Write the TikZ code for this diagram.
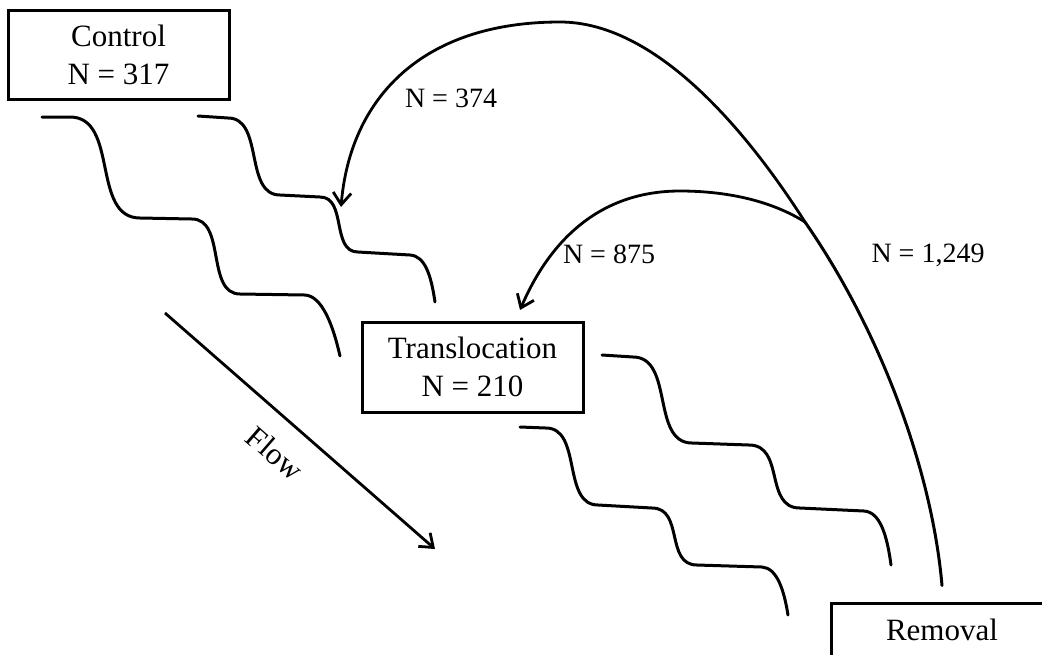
\documentclass[tikz,border=0pt]{standalone}
\usepackage{fontspec}
\setmainfont{Liberation Serif}
\usetikzlibrary{arrows.meta, positioning}

\begin{document}
\begin{tikzpicture}[
    x=0.5pt, y=-0.5pt,
    font=\fontsize{15.5}{19}\selectfont,
    block/.style={rectangle, draw, line width=1.5pt, align=center, inner sep=0pt},
    count/.style={font=\fontsize{14}{17}\selectfont},
    wave/.style={draw, line width=1.5pt, line cap=round},
    line/.style={draw, line width=1.4pt, -{Straight Barb[length=6pt, width=9pt]}}
]

\useasboundingbox (0,0) rectangle (1042,654);

\node [block, minimum width=110.5pt, minimum height=44.5pt] (control) at (118.5,54.5) {Control\\N = 317};
\node [block, minimum width=110.5pt, minimum height=45pt] (transloc) at (472.5,367) {Translocation\\N = 210};
\node [block, minimum width=111pt, minimum height=27pt] (removal) at (942,630) {Removal};

\coordinate (split) at (805,222);
\coordinate (top) at (560,22);
\coordinate (crest) at (680,191);
\coordinate (tip374) at (341,207);
\coordinate (tip875) at (520,310);
\coordinate (flowstart) at (165,313);
\coordinate (flowend) at (435,549);

\node [count] (n374) at (451,98) {N = 374};
\node [count] (n875) at (609,254) {N = 875};
\node [count] (n1249) at (928,255) {N = 1,249};
\node [rotate=-41] (flow) at (275,453) {Flow};

\path [wave] ([yshift=8pt]removal.north) .. controls (932,470) and (880,330) .. (split);
\path [line] (split) .. controls (745,128) and (655,22) .. (top) .. controls (420,22) and (350,100) .. (tip374);
\path [line] (split) .. controls (770,200) and (725,191) .. (crest) .. controls (600,191) and (550,240) .. (tip875);
\path [line] (flowstart) -- (flowend);

\path [wave] (42,117) -- (70,117) .. controls (119,117) and (91,218) .. (140,218) -- (192,219)
    .. controls (226,219) and (206,294) .. (240,294) -- (305,295)
    .. controls (322,296) and (333,325) .. (340,356);
\path [wave] (198,116) -- (228,118) .. controls (264,118) and (244,195) .. (280,195) -- (320,197)
    .. controls (347,197) and (331,252) .. (358,252) -- (410,255)
    .. controls (425,256) and (431,275) .. (435,302);
\path [wave] (602,355) -- (633,357) .. controls (674,357) and (651,443) .. (692,443) -- (749,445)
    .. controls (785,445) and (764,508) .. (800,508) -- (864,511)
    .. controls (880,512) and (887,535) .. (891,565);
\path [wave] (520,427) -- (546,428) .. controls (582,428) and (562,505) .. (598,505) -- (652,508)
    .. controls (684,508) and (665,565) .. (697,565) -- (762,567)
    .. controls (777,568) and (784,590) .. (788,615);

\end{tikzpicture}
\end{document}
